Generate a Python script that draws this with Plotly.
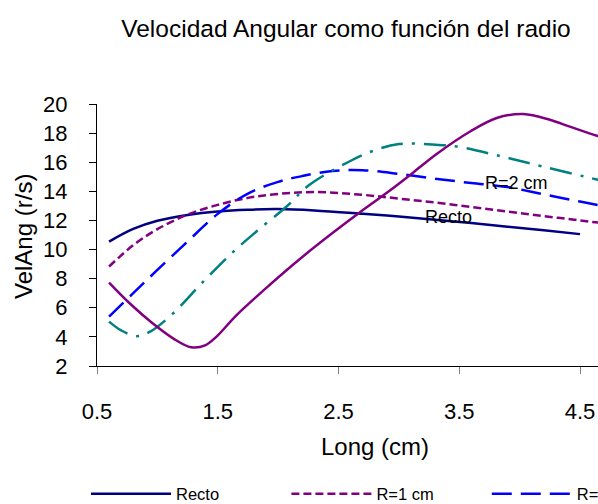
import plotly.graph_objects as go

title_text = "Velocidad Angular como función del radio"
x_title = "Long (cm)"
y_title = "VelAng (r/s)"
x_ticks = [0.5, 1.5, 2.5, 3.5, 4.5]
x_ticktext = ["0.5", "1.5", "2.5", "3.5", "4.5"]
y_ticks = [2, 4, 6, 8, 10, 12, 14, 16, 18, 20]

names = ["Recto", "R=1 cm", "R=2 cm", "R=3 cm", "R=4 cm"]

x_recto = [0.6, 0.8, 1.0, 1.25, 1.5, 1.75, 2.0, 2.3, 2.7, 3.0, 3.3, 3.6, 3.9, 4.2, 4.5]
y_recto = [10.55, 11.42, 11.98, 12.38, 12.62, 12.74, 12.78, 12.69, 12.46, 12.27, 12.05, 11.82, 11.57, 11.32, 11.06]

x_r1 = [0.6, 0.8, 1.0, 1.25, 1.5, 1.75, 2.0, 2.3, 2.7, 3.0, 3.3, 3.6, 3.9, 4.2, 4.5, 4.8]
y_r1 = [8.83, 10.3, 11.4, 12.4, 13.07, 13.55, 13.82, 13.95, 13.76, 13.5, 13.23, 12.92, 12.61, 12.3, 12.0, 11.7]

x_r2 = [0.6, 0.8, 1.0, 1.25, 1.5, 1.75, 2.0, 2.2, 2.45, 2.7, 3.0, 3.3, 3.6, 3.9, 4.2, 4.5, 4.8]
y_r2 = [5.39, 7.0, 8.6, 10.55, 12.45, 13.85, 14.65, 15.05, 15.4, 15.45, 15.2, 14.87, 14.57, 14.29, 13.79, 13.3, 12.8]

x_r3 = [0.6, 0.7, 0.83, 0.94, 1.13, 1.38, 1.63, 1.82, 2.07, 2.26, 2.59, 2.79, 3.0, 3.3, 3.48, 3.83, 4.19, 4.65, 4.8]
y_r3 = [5.05, 4.45, 4.05, 4.36, 5.62, 7.8, 9.86, 11.24, 12.96, 14.45, 16.05, 16.79, 17.25, 17.2, 17.08, 16.44, 15.71, 14.79, 14.5]

x_r4 = [0.6, 0.77, 0.96, 1.13, 1.28, 1.4, 1.49, 1.65, 1.9, 2.18, 2.45, 2.7, 2.9, 3.12, 3.31, 3.59, 3.81, 4.03, 4.25, 4.41, 4.64, 4.8]
y_r4 = [7.73, 6.31, 4.94, 3.9, 3.29, 3.44, 4.02, 5.45, 7.35, 9.35, 11.13, 12.7, 13.9, 15.3, 16.55, 18.11, 19.04, 19.31, 18.92, 18.46, 17.82, 17.5]

series_x = [x_recto, x_r1, x_r2, x_r3, x_r4]
series_y = [y_recto, y_r1, y_r2, y_r3, y_r4]
colors = ["#000080", "#800080", "#0000FF", "#008080", "#800080"]
dashes = ["solid", "8px,4px", "20px,9px", "22px,9px,3px,9px", "solid"]
in_legend = [True, True, True, False, False]

FONT = "Liberation Sans, Arial, sans-serif"

fig = go.Figure()
for xs, ys, nm, c, d, lg in zip(series_x, series_y, names, colors, dashes, in_legend):
    fig.add_trace(go.Scatter(
        x=xs, y=ys, name=nm, mode="lines", showlegend=lg,
        line=dict(color=c, width=2.5, dash=d, shape="spline", smoothing=1.0),
    ))

W, H = 598, 504
ml, mt, mb = 97, 104, 138
plot_w = W - ml
plot_h = H - mt - mb
px_per_unit = 120.75
x_max = 0.5 + plot_w / px_per_unit

fig.update_layout(
    width=W, height=H,
    margin=dict(l=ml, r=0, t=mt, b=mb, pad=0, autoexpand=False),
    paper_bgcolor="white",
    plot_bgcolor="white",
    font=dict(family=FONT, color="black"),
    title=dict(text=title_text, x=346 / W, y=1 - 28 / H, xanchor="center", yanchor="middle",
               xref="container", yref="container", font=dict(size=24.5, family=FONT, color="black")),
    xaxis=dict(range=[0.5, x_max], tickvals=x_ticks, ticktext=x_ticktext,
               ticks="outside", ticklen=7, tickcolor="#808080", showline=True, linecolor="black",
               linewidth=1, showgrid=False, zeroline=False, automargin=False,
               tickfont=dict(size=22, family=FONT, color="black"), ticklabelstandoff=19),
    yaxis=dict(range=[2, 20], tickvals=y_ticks, ticks="outside", ticklen=7,
               tickcolor="black", showline=True, linecolor="black", linewidth=1, showgrid=False,
               zeroline=False, automargin=False, tickfont=dict(size=22, family=FONT, color="black"),
               ticklabelstandoff=17),
    showlegend=True,
    legend=dict(orientation="h", x=(86 - ml) / plot_w, y=-(494 - (H - mb)) / plot_h,
                xanchor="left", yanchor="middle", font=dict(size=16.5, family=FONT, color="black"),
                entrywidth=105.4, entrywidthmode="pixels", itemwidth=80, bgcolor="rgba(0,0,0,0)",
                tracegroupgap=0),
    annotations=[
        dict(text="Recto", x=3.41, y=12.25, xref="x", yref="y", showarrow=False,
             font=dict(size=18, family=FONT, color="black")),
        dict(text="R=2 cm", x=3.97, y=14.59, xref="x", yref="y", showarrow=False,
             font=dict(size=18, family=FONT, color="black")),
        dict(text=x_title, x=(375 - ml) / plot_w, y=-(446 - (H - mb)) / plot_h, xref="paper", yref="paper",
             showarrow=False, xanchor="center", yanchor="middle", font=dict(size=24, family=FONT, color="black")),
        dict(text=y_title, x=(23 - ml) / plot_w, y=(H - mb - 237) / plot_h, xref="paper", yref="paper",
             textangle=-90, showarrow=False, xanchor="center", yanchor="middle",
             font=dict(size=24, family=FONT, color="black")),
    ],
)

fig.write_html("out.html")
